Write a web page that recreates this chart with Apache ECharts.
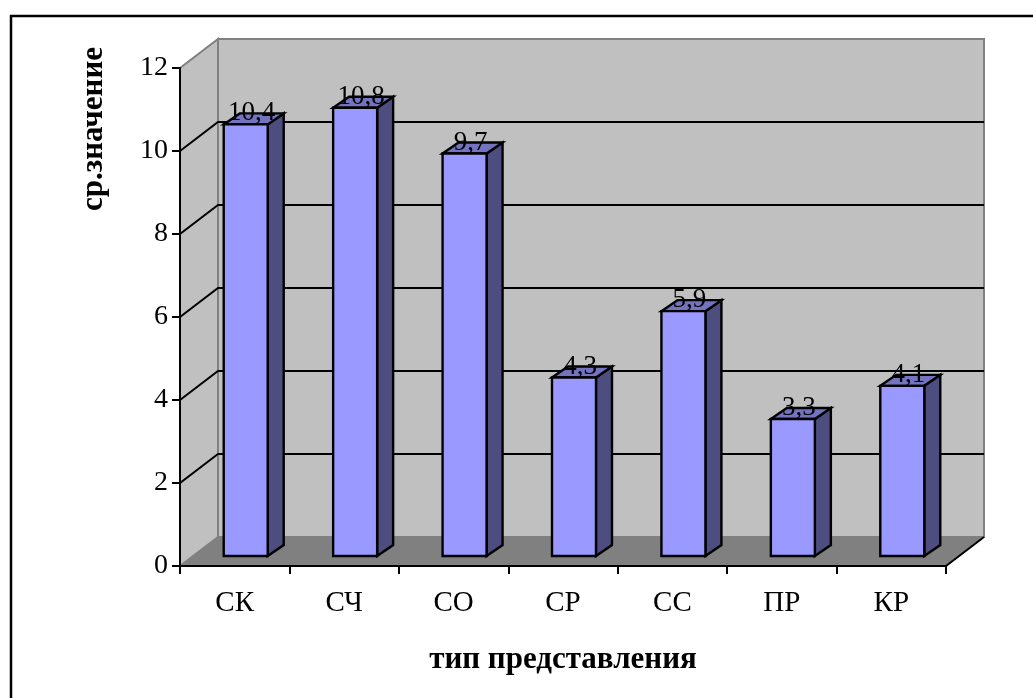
<!DOCTYPE html>
<html>
<head>
<meta charset="utf-8">
<style>html,body{margin:0;padding:0;background:#fff}#chart{width:1033px;height:698px}</style>
<script src="https://cdn.jsdelivr.net/npm/echarts@6/dist/echarts.min.js"></script>
</head>
<body>
<div id="chart"></div>
<script>
// Average value per representation type
const categories = ['СК', 'СЧ', 'СО', 'СР', 'СС', 'ПР', 'КР'];
const averages = [10.4, 10.8, 9.7, 4.3, 5.9, 3.3, 4.1];
const gridTicks = [2, 4, 6, 8, 10];
const yMax = 12;
const yInterval = 2;

// Pseudo-3D projection of the plot box and of the columns
const DEPTH_X = 38, DEPTH_Y = -29;
const BAR_W = 44, BAR_SHIFT_X = 11, BAR_SHIFT_Y = -10, BAR_DX = 16, BAR_DY = -11;
const SERIF = '"Liberation Serif", "Times New Roman", serif';

function poly(points, fill, stroke, width) {
  return { type: 'polygon', shape: { points }, style: { fill, stroke: stroke || 'none', lineWidth: width || 0, lineJoin: 'miter' } };
}

// Back wall, side wall and floor
function renderRoom(params, api) {
  const c = params.coordSys;
  const l = c.x, r = c.x + c.width, t = c.y, b = c.y + c.height;
  const dx = DEPTH_X, dy = DEPTH_Y;
  return {
    type: 'group',
    children: [
      poly([[l + dx, t + dy], [r + dx, t + dy], [r + dx, b + dy], [l + dx, b + dy]], '#c0c0c0', '#808080', 2),
      poly([[l, t], [l + dx, t + dy], [l + dx, b + dy], [l, b]], '#c0c0c0', '#808080', 2),
      poly([[l, b], [l + dx, b + dy], [r + dx, b + dy], [r, b]], '#808080', '#808080', 1),
      { type: 'line', shape: { x1: r, y1: b, x2: r + dx, y2: b + dy }, style: { stroke: '#000', lineWidth: 2 } }
    ]
  };
}

// Horizontal gridline carried across the side wall and the back wall
function renderGridline(params, api) {
  const c = params.coordSys;
  const p = api.coord([0, api.value(0)]);
  const y = Math.round(p[1]);
  return {
    type: 'polyline',
    shape: { points: [[c.x, y], [c.x + DEPTH_X, y + DEPTH_Y], [c.x + c.width + DEPTH_X, y + DEPTH_Y]] },
    style: { fill: 'none', stroke: '#000', lineWidth: 2 }
  };
}

// One column: front face, right side and top, offset into the depth of the floor
function renderBar(params, api) {
  const top = api.coord([api.value(0), api.value(1)]);
  const base = api.coord([api.value(0), 0]);
  const x0 = top[0] - BAR_W / 2 + BAR_SHIFT_X, x1 = x0 + BAR_W;
  const yT = top[1] + BAR_SHIFT_Y, yB = base[1] + BAR_SHIFT_Y;
  const dx = BAR_DX, dy = BAR_DY;
  return {
    type: 'group',
    children: [
      poly([[x1, yT], [x1 + dx, yT + dy], [x1 + dx, yB + dy], [x1, yB]], '#4d4d80', '#000', 2.4),
      poly([[x0, yT], [x0 + dx, yT + dy], [x1 + dx, yT + dy], [x1, yT]], '#7373bf', '#000', 2.4),
      poly([[x0, yT], [x1, yT], [x1, yB], [x0, yB]], '#9999ff', '#000', 2.4),
      {
        type: 'text',
        x: (x0 + x1) / 2 + 6, y: yT - 11,
        style: {
          text: String(api.value(1)).replace('.', ','),
          font: '27px ' + SERIF, fill: '#000', align: 'center', verticalAlign: 'middle'
        }
      }
    ]
  };
}

const chart = echarts.init(document.getElementById('chart'), null, { renderer: 'canvas' });
chart.setOption({
  animation: false,
  backgroundColor: '#fff',
  grid: { left: 180, top: 68, width: 766, height: 498, containLabel: false },
  xAxis: {
    type: 'category',
    data: categories,
    boundaryGap: true,
    axisLine: { show: true, lineStyle: { color: '#000', width: 2 } },
    axisTick: { show: true, alignWithLabel: false, length: 8, lineStyle: { color: '#000', width: 2 } },
    axisLabel: { color: '#000', fontFamily: SERIF, fontSize: 29, margin: 23 },
    splitLine: { show: false },
    name: 'тип представления',
    nameLocation: 'middle',
    nameGap: 78,
    nameTextStyle: { color: '#000', fontFamily: SERIF, fontSize: 31, fontWeight: 'bold' },
    z: 5
  },
  yAxis: {
    type: 'value',
    min: 0,
    max: yMax,
    interval: yInterval,
    axisLine: { show: true, lineStyle: { color: '#000', width: 2 } },
    axisTick: { show: true, length: 8, lineStyle: { color: '#000', width: 2 } },
    axisLabel: { color: '#000', fontFamily: SERIF, fontSize: 28, margin: 12 },
    splitLine: { show: false },
    z: 5
  },
  graphic: [
    // Frame rules along the top and left edges, running off the page
    {
      type: 'polyline', z: -10, silent: true,
      shape: { points: [[11, 698], [11, 16], [1033, 16]] },
      style: { fill: 'none', stroke: '#000', lineWidth: 2.5, lineJoin: 'miter' }
    },
    {
      type: 'text', z: 10, x: 94, y: 129, rotation: Math.PI / 2,
      style: {
        text: 'ср.значение', font: 'bold 31px ' + SERIF, fill: '#000',
        align: 'center', verticalAlign: 'middle'
      }
    }
  ],
  series: [
    { type: 'custom', coordinateSystem: 'cartesian2d', z: 1, clip: false, data: [0], renderItem: renderRoom },
    { type: 'custom', coordinateSystem: 'cartesian2d', z: 2, clip: false, data: gridTicks.map(v => [v]), encode: { y: 0 }, renderItem: renderGridline },
    { type: 'custom', coordinateSystem: 'cartesian2d', z: 3, clip: false, data: averages.map((v, i) => [i, v]), encode: { x: 0, y: 1 }, renderItem: renderBar }
  ]
});
</script>
</body>
</html>
